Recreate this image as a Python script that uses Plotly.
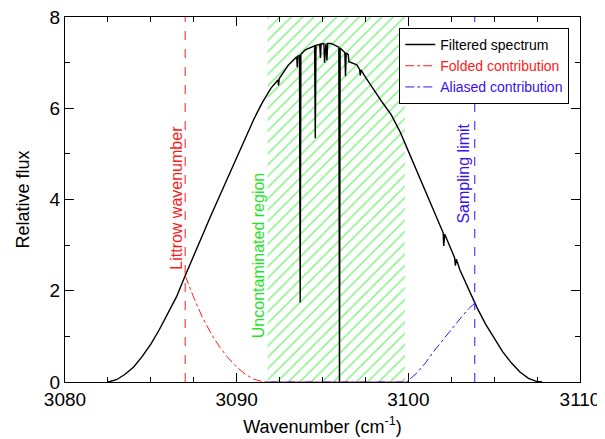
import plotly.graph_objects as go

# ---- data ----
spec_wn = [3082.5, 3083.0, 3083.5, 3084.0, 3084.5, 3085.0, 3085.5, 3086.0, 3086.5,
           3087.0, 3087.5, 3088.0, 3088.5, 3089.0, 3089.5, 3090.0, 3090.5, 3091.0,
           3091.5, 3092.0, 3092.4, 3092.44, 3092.48, 3093.0, 3093.5, 3093.53, 3093.57,
           3093.61, 3093.66, 3093.70, 3093.74, 3094.0, 3094.5, 3094.54, 3094.58, 3094.62,
           3094.84, 3094.88, 3094.92, 3095.0, 3095.08, 3095.12, 3095.2, 3095.26, 3095.3,
           3095.5, 3095.95, 3095.99, 3096.03, 3096.3, 3096.34, 3096.38, 3096.42, 3096.46,
           3096.5, 3096.54, 3097.0, 3097.16, 3097.2, 3097.24, 3097.5, 3098.0, 3098.5,
           3099.0, 3099.5, 3100.0, 3100.5, 3101.0, 3101.5, 3102.0, 3102.03, 3102.06,
           3102.12, 3102.5, 3102.7, 3102.74, 3102.8, 3103.0, 3103.5, 3104.0, 3104.5,
           3105.0, 3105.5, 3106.0, 3106.5, 3107.0, 3107.5, 3107.8]
spec_flux = [0.0, 0.05, 0.17, 0.33, 0.56, 0.83, 1.15, 1.5, 1.87,
             2.33, 2.78, 3.2, 3.65, 4.07, 4.5, 4.93, 5.35, 5.76,
             6.13, 6.44, 6.62, 6.5, 6.65, 6.94, 7.13, 6.9, 7.14,
             7.15, 7.16, 1.74, 7.18, 7.28, 7.37, 7.37, 5.34, 7.38,
             7.4, 7.1, 7.41, 7.42, 7.42, 7.0, 7.42, 7.05, 7.42,
             7.42, 7.34, 0.0, 7.32, 7.22, 6.7, 7.2, 7.2, 7.19,
             7.17, 7.02, 6.95, 6.85, 6.72, 6.84, 6.68, 6.39, 6.12,
             5.86, 5.5, 5.06, 4.62, 4.18, 3.74, 3.3, 3.27, 2.98,
             3.24, 2.9, 2.72, 2.55, 2.69, 2.46, 2.04, 1.63, 1.27,
             0.95, 0.66, 0.42, 0.22, 0.08, 0.01, 0.0]

folded_wn = [3087.0, 3087.5, 3088.0, 3088.5, 3089.0, 3089.5, 3090.0, 3090.5,
             3091.0, 3091.5, 3091.8, 3099.8]
folded_flux = [2.33, 1.85, 1.42, 1.07, 0.77, 0.53, 0.33, 0.17,
               0.06, 0.01, 0.0, 0.0]

aliased_wn = [3091.8, 3099.9, 3100.5, 3101.0, 3101.5, 3102.0, 3102.5, 3103.0,
              3103.5, 3103.87]
aliased_flux = [0.0, 0.0, 0.2, 0.42, 0.68, 0.92, 1.16, 1.38, 1.6, 1.73]

littrow_wn = 3087.0
sampling_limit_wn = 3103.87
region_lo, region_hi = 3091.8, 3099.8

x_ticks = [3080, 3090, 3100, 3110]
y_ticks = [0, 2, 4, 6, 8]

RED = "#ff1a1a"
BLUE = "#3a10f0"
GREEN = "#1ee61e"
FONT = "Liberation Sans, Arial, sans-serif"

fig = go.Figure()

# hatched uncontaminated region
fig.add_trace(go.Scatter(
    x=[region_lo, region_hi, region_hi, region_lo, region_lo],
    y=[0, 0, 8, 8, 0], mode="lines", line=dict(width=0),
    fill="toself", fillcolor="rgba(0,0,0,0)",
    fillpattern=dict(shape="/", fgcolor=GREEN, bgcolor="white", size=8, solidity=0.2),
    showlegend=False, hoverinfo="skip"))

fig.add_trace(go.Scatter(x=spec_wn, y=spec_flux, mode="lines",
                         line=dict(color="black", width=1.4),
                         name="Filtered spectrum"))
fig.add_trace(go.Scatter(x=folded_wn, y=folded_flux, mode="lines",
                         line=dict(color=RED, width=1, dash="dashdot"),
                         name=f"<span style='color:{RED}'>Folded contribution</span>"))
fig.add_trace(go.Scatter(x=aliased_wn, y=aliased_flux, mode="lines",
                         line=dict(color=BLUE, width=1, dash="dashdot"),
                         name=f"<span style='color:{BLUE}'>Aliased contribution</span>"))

fig.add_shape(type="line", x0=littrow_wn, x1=littrow_wn, y0=0, y1=8,
              xref="x", yref="y", line=dict(color=RED, width=1, dash="dash"))
fig.add_shape(type="line", x0=sampling_limit_wn, x1=sampling_limit_wn, y0=0, y1=8,
              xref="x", yref="y", line=dict(color=BLUE, width=1, dash="dash"))

fig.add_annotation(x=3086.5, y=4.03, text="Littrow wavenumber", textangle=-90,
                   showarrow=False, font=dict(color=RED, size=16, family=FONT))
fig.add_annotation(x=3091.25, y=2.76, text="Uncontaminated region", textangle=-90,
                   showarrow=False, font=dict(color=GREEN, size=16, family=FONT))
fig.add_annotation(x=3103.22, y=4.56, text="Sampling limit", textangle=-90,
                   showarrow=False, font=dict(color=BLUE, size=16, family=FONT))

axis_common = dict(showline=True, linecolor="black", linewidth=1, mirror="ticks",
                   ticks="inside", ticklen=9, tickcolor="black", tickwidth=1,
                   showgrid=False, zeroline=False, automargin=False,
                   ticklabeloverflow="allow",
                   tickfont=dict(size=19, color="black", family=FONT))

fig.update_xaxes(range=[3080, 3110], tickvals=x_ticks,
                 ticktext=[str(v) for v in x_ticks],
                 minor=dict(dtick=2.5, tick0=3080, ticks="inside", ticklen=5,
                            tickcolor="black"),
                 title=dict(text="Wavenumber (cm<sup>-1</sup>)",
                            font=dict(size=18, color="black", family=FONT), standoff=11),
                 **axis_common)
fig.update_yaxes(range=[0, 8], tickvals=y_ticks,
                 ticktext=[str(v) for v in y_ticks],
                 minor=dict(dtick=1, tick0=0, ticks="inside", ticklen=5,
                            tickcolor="black"),
                 title=dict(text="Relative flux",
                            font=dict(size=18, color="black", family=FONT), standoff=15),
                 **axis_common)

# page has an 8px body margin, so the figure is offset by 8px
fig.update_layout(
    width=597, height=431,
    margin=dict(l=57, r=25, t=9, b=57),
    paper_bgcolor="white", plot_bgcolor="white",
    font=dict(family=FONT, color="black"),
    showlegend=True,
    legend=dict(x=0.649, y=0.97, xanchor="left", yanchor="top",
                bgcolor="white", bordercolor="black", borderwidth=1,
                font=dict(size=14, color="black", family=FONT),
                itemwidth=30, tracegroupgap=0),
)

fig.write_html("out.html")
